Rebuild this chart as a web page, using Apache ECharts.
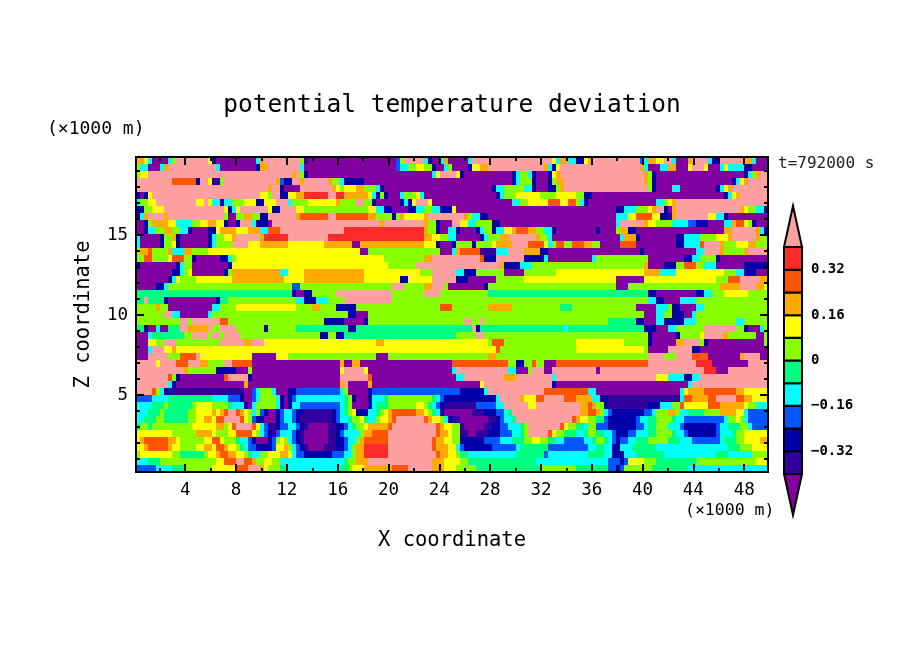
<!DOCTYPE html>
<html><head><meta charset="utf-8"><style>html,body{margin:0;padding:0;background:#fff}#c{width:904px;height:654px}</style>
<script src="https://cdn.jsdelivr.net/npm/echarts@6/dist/echarts.min.js"></script></head><body><div id="c"></div>
<script>
const titleText = "potential temperature deviation";
const xTickMajor = [4,8,12,16,20,24,28,32,36,40,44,48];
const xTickMinor = [2,6,10,14,18,22,26,30,34,38,42,46];
const zTickMajor = [5,10,15];
const zTickMinor = [1,2,3,4,6,7,8,9,11,12,13,14,16,17,18,19];
const barLabels = [-0.32,-0.16,0,0.16,0.32];
const levelColors = ["#8000a0","#3300a0","#0000a8","#0055ff","#00ffff","#00ff80","#88ff00","#ffff00","#ffaa00","#ff5500","#ff2a2a","#ffa0a0"];
const levelLetters = "abcdefghijkl";
const levelEdges = [-0.4,-0.32,-0.24,-0.16,-0.08,0,0.08,0.16,0.24,0.32,0.4];
// each row: level letter + last column of the run, top row first
const levelRows = [
"i2 h3 e4 a8 e9 g10 l18 h19 c20 a30 e31 i32 l41 g42 b43 a65 d66 g67 l72 e73 c74 a76 e77 i78 a83 e84 l104 h105 e106 i108 e110 c112 h113 i114 l126 d127 e128 i130 h132 l134 e135 a138 i139 l143 e144 c146 l152 i154 e155 a158",
"g1 e3 a6 e7 i8 l20 e21 a30 c31 i33 l41 e42 a65 d66 e68 g70 h72 g74 c75 a77 e78 g79 a83 c84 h86 i88 l102 i103 e104 c105 h106 l126 i127 e128 a131 e133 i135 a138 h139 l142 h143 a146 e147 h148 e152 c154 a158",
"g1 h3 l39 i40 l41 g42 c43 a74 e75 h76 l80 h81 c82 a94 c95 e96 g98 e99 c100 a103 c104 h105 i106 l127 i128 g129 c130 a152 c153 e154 g155 i156 l158",
"l9 j15 c16 l18 h19 b21 g22 l35 i36 d37 c38 c39 l41 i42 l48 i49 g51 e52 c53 c57 a81 a94 c95 e96 g99 c100 a103 c104 g105 i107 l127 i128 g129 c130 a149 c150 e151 h152 i153 l158",
"l33 i34 l36 c37 a41 l49 i50 h51 g52 h55 i57 g60 e61 c62 a89 c90 e92 g97 e99 c100 a103 c105 g106 i107 l128 g129 c130 a134 e136 a145 c146 e147 h148 i149 l158",
"c1 a2 c3 h4 l31 h33 g34 l36 c38 h40 i42 k48 l50 k52 i58 h59 e60 c61 g62 c63 a66 e67 g70 h71 e72 a90 c91 e92 g95 h101 g105 h110 g112 c114 a147 c148 e149 h150 i151 l158",
"e1 g3 h5 l15 h17 l18 h19 e21 c22 e24 g27 h30 c32 h35 l38 e39 g43 h50 i51 g55 l57 g59 c60 a66 c67 e68 c69 h70 l73 h74 a94 e96 g98 h103 j106 h108 j110 g111 e112 c113 a130 e132 g133 h134 i135 l158",
"c2 g4 h7 l22 h23 c24 e25 h26 l33 h34 c36 l40 h42 g58 h60 e62 c64 a68 c70 e72 g74 e76 c79 h80 a120 c122 e125 g128 h129 i130 l132 c133 a134 i135 l151 i152 h153 g155 e157 c158",
"c1 e2 i3 l7 i8 l22 g23 a25 g27 i29 g31 c33 l40 i41 j48 l50 j58 i60 g64 c65 g66 i67 h72 i73 l82 i83 g84 e86 c88 a120 e123 h125 j129 h131 c133 b134 i135 l143 h145 e147 c148 a158",
"a2 c3 g4 i8 h10 e14 g16 h18 i20 h22 c23 a25 c26 l29 e30 c33 a34 l61 i62 l72 i73 g75 c76 a79 l81 h83 e85 g89 c91 a120 e121 l127 i128 h130 g134 e138 d140 c143 a147 e149 i150 j152 h153 g154 c155 a158",
"a2 c3 e5 g7 i9 g11 e13 c14 a18 c20 h21 i25 h28 i31 e33 j36 l52 k72 i73 g75 c76 a78 e80 c81 a85 c86 e87 g89 c90 e92 h94 i95 j98 i100 g102 e104 c105 a115 c116 a120 g121 i123 c125 a147 i149 l155 i156 e157 c158",
"e1 a6 c7 g9 i10 c11 a18 c19 e20 g22 h24 i25 l31 i32 k38 l48 k72 i74 h76 g78 e80 a86 c87 e88 g91 i93 l100 i101 g103 e104 a121 e122 i125 c126 a135 c137 e141 g145 h148 i149 l155 i156 g158",
"e1 a6 c7 g9 h10 c11 a18 c19 e20 g24 l28 h31 i38 h47 i54 a56 i72 h75 c76 a79 c80 g84 c85 g89 h90 i94 l98 j102 h103 e104 g105 j107 g109 j112 i114 g116 a121 j125 a135 c137 e141 j142 l146 i147 g150 h153 i155 g158",
"g1 i3 j4 g8 i9 e12 i14 g18 h24 h56 a58 g76 a79 e80 i81 j86 b90 e93 l97 i101 c103 a126 c127 a135 a140 e142 l146 i147 g149 g152 i153 l158",
"g2 j4 g8 h9 j12 g14 c15 a21 c23 e24 g25 h62 g72 i74 l86 j87 c90 l97 c102 e103 a114 e115 g128 a137 c139 e141 g145 c146 a158",
"c1 a10 c11 e12 g14 a23 c24 h63 g70 l91 i92 c96 e99 g127 i128 a132 c135 g137 j140 g142 e145 a152 c158",
"a9 c11 e12 g13 h14 a22 c23 g24 i36 e38 h42 i57 h71 g74 l80 e82 c85 g92 a97 g105 h127 i131 e135 h147 g150 e152 c155 a158",
"a8 c9 e10 h11 g15 h24 i37 h42 i57 h66 c68 h74 l80 c83 a90 g97 h120 a127 h145 g148 j151 l156 i158",
"a5 c7 e8 g39 d41 g64 l67 g72 i74 l77 g78 a82 a87 c88 g120 a123 g146 i151 l155 i157 h158",
"f39 c40 a42 c44 g50 l64 g72 l76 g88 f128 c130 a140 c142 e144 g147 h153 g158",
"f2 l3 f7 c8 a20 c21 f23 g40 e42 c45 e48 g52 l64 g128 e130 c132 a136 e140 g158",
"g5 i6 g8 a19 e21 g25 h40 g44 i46 g50 c55 g76 j79 g88 i94 g106 f109 g125 a130 e133 g134 c136 a140 e142 g158",
"g7 l9 e11 a18 e19 g53 c55 a58 g127 a130 e132 g134 c137 a139 e140 g158",
"g11 l13 g14 l21 j23 g47 c52 a57 c58 g82 l84 g86 l87 g118 f125 c127 a130 e132 c137 e140 g150 e152 g158",
"f2 c3 a5 e6 a8 f11 l13 i18 l19 g21 l25 g32 c33 g40 f53 c55 f84 l85 c86 f107 e108 f127 c130 a133 e135 g142 l150 g152 c153 a156 e157 g158",
"a3 e4 f12 g14 l18 g19 l21 g22 l26 g46 c48 g50 c52 f80 g85 l87 g128 c129 a135 c136 g141 h142 l147 i148 g155 a157 g158",
"a3 h5 g7 l10 g21 l27 i29 l32 h60 i62 h88 g89 j92 g110 h122 g128 c129 a135 i137 l141 g142 c143 a157 g158",
"a3 e4 l7 h9 i10 h90 j91 g110 h127 g128 a133 l139 c141 a158",
"a3 l8 g11 j15 l16 h29 a35 h38 g60 a63 g88 i90 g128 l132 g135 l139 j143 a151 i152 l156 a158",
"l5 h6 l10 j13 l16 i18 g22 l24 j29 a51 i52 a54 i56 a79 j93 g95 c97 g99 j100 g102 a105 j128 l140 k144 a153 l158",
"l12 i13 g20 c25 a28 g29 a51 h52 l57 h58 a79 e80 l93 e95 a98 g99 l102 a104 l115 a116 l142 k145 a148 l158",
"l8 j9 g10 c11 a22 j23 l28 c29 a51 l58 j59 a80 e82 l92 i95 l104 e105 l130 h133 e137 c139 e141 l158",
"l8 e9 c10 a27 i28 a51 i52 l53 a58 i59 a86 h87 l104 c105 a138 e139 l158",
"l4 j5 g6 e7 c8 b27 a29 d30 e31 g34 e35 a38 c40 d51 e52 g53 a58 c59 d81 c87 e88 l102 j113 e115 a136 e137 h138 i142 j150 i152 h158",
"d4 e8 f19 e23 d26 c27 a29 d30 e31 g35 e36 c37 a38 c39 d40 e52 f53 g54 c55 a58 c59 e62 f63 g74 f75 e76 d77 c90 e91 l96 i97 h100 j102 l107 j110 i114 e116 c118 b136 e137 j139 i143 j145 l150 j152 i154 h158",
"e4 f7 g8 f14 g15 h19 g23 f24 e27 c28 a29 e30 g35 e36 c37 a38 c39 e41 d51 e52 f53 g54 a58 c59 e60 f63 g70 h72 g73 f74 e75 d76 c77 b85 d90 e92 l98 h100 l111 i113 j114 i115 g117 c118 b128 c131 e134 g136 j137 h143 j146 i152 h153 g155 e158",
"e3 f6 g7 f13 g15 h19 i20 h21 i22 j23 l25 j26 i27 h28 g29 e30 g31 d32 c33 a35 c36 d37 e39 d40 c42 b49 c50 d51 e52 f53 g54 h55 c58 e60 f61 g62 h63 i64 j70 i72 h73 g74 f75 e76 c77 a84 b87 c90 d92 e93 f94 l111 i113 j115 i116 g117 e118 d119 c127 d129 e130 g133 i135 g136 e138 f142 g146 i150 h152 e153 d158",
"e2 f5 g7 f13 g15 h17 i19 h20 j22 l26 j27 h28 g29 d30 c32 a35 c36 d37 e39 d40 c41 b49 c50 d51 e53 f54 g56 h57 f58 e60 g61 h63 i64 j65 l72 j73 i74 h76 g77 e78 c79 b81 a88 b90 c91 d92 e94 f95 l109 j110 i111 h113 g115 f117 d118 c125 d126 e128 f130 g134 f135 e137 d147 e148 g150 h151 g152 e153 d158",
"f1 g3 f4 g14 h20 i22 g23 h24 j25 l29 j30 h31 e32 d33 b35 c36 d38 e40 d41 c42 b43 a48 b50 c52 d53 e54 f55 g57 h58 i63 j64 l75 j76 i77 h79 g81 b82 a87 b89 c91 d93 e96 f97 g98 l106 j107 h108 g110 f112 e113 g115 d118 c125 d127 e128 f130 g133 e136 d137 c145 d146 e148 f151 g153 e154 d158",
"h9 g15 i19 h20 g23 h25 j29 h30 g31 e32 d33 c34 b35 d36 e39 d40 c41 b42 a48 b50 c51 d52 e56 g57 i59 j63 l75 j76 i78 h79 g81 b83 a85 b88 c91 d94 e96 f97 g98 l103 j104 h105 g107 f110 e112 f113 g115 f117 e119 d120 c123 d125 e128 f130 g134 f135 e137 d138 c145 d146 e149 f150 g152 h158",
"h1 i2 j8 i10 h11 g17 h19 j21 h22 g25 f26 e28 d29 c30 a33 c34 d35 g36 h37 g38 e39 d40 c41 b42 a48 b50 c52 d53 e55 g56 i57 j63 l74 j75 i77 h79 g81 c87 d91 e94 f97 g99 h101 g103 f105 e107 d112 e114 f115 g117 f118 e119 d120 c121 d123 e125 f128 g133 f136 e139 d146 e147 f150 g152 h156 i158",
"h2 i3 j8 i9 h11 g15 h17 i19 h20 j22 i23 h25 g26 f27 e28 d30 c34 d35 h37 i38 g39 e40 d41 c42 b43 a47 b50 c52 d53 e54 g55 i57 k63 l74 j75 i78 h80 e81 d82 c89 d95 e96 f103 d113 e115 f117 e119 c121 e124 f130 e148 f151 g154 h158",
"g1 h9 g11 f17 g18 h20 i21 j23 i25 h27 g28 f29 e31 g33 h36 i38 h39 e40 d42 c49 d52 e54 g55 i57 k63 l75 j76 i78 h80 g81 f83 e95 f102 d103 e113 f117 e119 c122 e125 f132 e145 f148 e154 g158",
"e3 f6 g20 h22 j25 l27 j29 i30 g32 h34 g36 e52 f53 g55 i58 l74 i77 h81 g83 f100 e118 d121 c122 d123 h127 g130 f140 g155 h158",
"d5 e9 f12 g19 h25 j28 l31 i32 h33 g36 f38 e51 f53 g54 h57 i64 j68 l74 i77 h80 g85 f101 g110 f118 d120 c121 d122 g129 f138 e158"
];

const xMin = 0.125, xMax = 49.875, zMin = 0.1875, zMax = 19.875;
const colCount = 158, rowCount = levelRows.length;
const runs = [];
levelRows.forEach((row, r) => {
  const zTop = zMax - (zMax - zMin) * r / rowCount, zBot = zMax - (zMax - zMin) * (r + 1) / rowCount;
  let prev = 0;
  for (const m of row.matchAll(/([a-l])(\d+)/g)) {
    const end = Math.min(+m[2], colCount);
    if (end <= prev) continue;
    const idx = levelLetters.indexOf(m[1]);
    runs.push([xMin + (xMax - xMin) * prev / colCount, xMin + (xMax - xMin) * end / colCount, zBot, zTop, idx]);
    prev = end;
  }
});

const font = "DejaVu Sans Mono";
const barOver = 0.145;
const barData = levelEdges.slice(0, -1).map((v, i) => [v, levelEdges[i + 1], i + 1]);
barData.unshift([levelEdges[0] - barOver, levelEdges[0], 0]);
barData.push([levelEdges[10], levelEdges[10] + barOver, 11]);

const tickStyle = {color: "#000", width: 2};
function xAx(pos, vals, len, labels, extra) {
  return Object.assign({type: "value", gridIndex: 0, position: pos, min: xMin, max: xMax, z: 6,
    axisLine: {show: true, onZero: false, lineStyle: {color: "#000", width: 2}},
    axisTick: {show: true, inside: true, length: len, customValues: vals, lineStyle: tickStyle},
    axisLabel: labels ? {show: true, customValues: vals, margin: 9, fontFamily: font, fontSize: 17.5, color: "#000", formatter: v => String(v)} : {show: false},
    splitLine: {show: false}}, extra || {});
}
function zAx(pos, vals, len, labels, extra) {
  return Object.assign({type: "value", gridIndex: 0, position: pos, min: zMin, max: zMax, z: 6,
    axisLine: {show: true, onZero: false, lineStyle: {color: "#000", width: 2}},
    axisTick: {show: true, inside: true, length: len, customValues: vals, lineStyle: tickStyle},
    axisLabel: labels ? {show: true, customValues: vals, margin: 8, fontFamily: font, fontSize: 17.5, color: "#000", formatter: v => String(v)} : {show: false},
    splitLine: {show: false}}, extra || {});
}
const chart = echarts.init(document.getElementById("c"), null, {renderer: "canvas"});
chart.setOption({
  animation: false,
  backgroundColor: "#fff",
  title: {text: titleText, left: 447, top: 88, textAlign: "center", textStyle: {fontFamily: font, fontSize: 24.5, fontWeight: "normal", color: "#000"}},
  grid: [
    {left: 136, top: 157, width: 632, height: 315},
    {left: 784, top: 206, width: 18, height: 309}
  ],
  xAxis: [
    xAx("bottom", xTickMajor, 8, true, {name: "X coordinate", nameLocation: "middle", nameGap: 58, nameTextStyle: {fontFamily: font, fontSize: 20.5, color: "#000"}}),
    xAx("bottom", xTickMinor, 4, false),
    xAx("top", xTickMajor, 8, false),
    xAx("top", xTickMinor, 4, false),
    {type: "value", gridIndex: 1, min: 0, max: 1, show: false}
  ],
  yAxis: [
    zAx("left", zTickMajor, 8, true, {name: "Z coordinate", nameLocation: "middle", nameGap: 42, nameTextStyle: {fontFamily: font, fontSize: 20.5, color: "#000"}}),
    zAx("left", zTickMinor, 4, false),
    zAx("right", zTickMajor, 8, false),
    zAx("right", zTickMinor, 4, false),
    {type: "value", gridIndex: 1, position: "right", min: levelEdges[0] - barOver, max: levelEdges[10] + barOver,
      axisLine: {show: false}, axisTick: {show: false}, splitLine: {show: false},
      axisLabel: {show: true, customValues: barLabels, margin: 9, fontFamily: font, fontSize: 14, fontWeight: "bold", color: "#000",
        formatter: v => (v < 0 ? "\u2212" + Math.abs(v) : String(v))}}
  ],
  series: [
    {type: "custom", xAxisIndex: 0, yAxisIndex: 0, silent: true, progressive: 0, clip: true,
      encode: {x: [0, 1], y: [2, 3]}, data: runs, z: 2,
      renderItem(params, api) {
        const a = api.coord([api.value(0), api.value(3)]), b = api.coord([api.value(1), api.value(2)]);
        const x0 = Math.round(a[0]), y0 = Math.round(a[1]), x1 = Math.round(b[0]), y1 = Math.round(b[1]);
        return {type: "rect", shape: {x: x0, y: y0, width: x1 - x0, height: y1 - y0}, style: {fill: levelColors[api.value(4)]}};
      }},
    {type: "custom", xAxisIndex: 4, yAxisIndex: 4, silent: true, progressive: 0, clip: false,
      encode: {y: [0, 1]}, data: barData, z: 3,
      renderItem(params, api) {
        const lo = api.value(0), hi = api.value(1), i = api.value(2);
        const style = {fill: levelColors[i], stroke: "#000", lineWidth: 2};
        if (i === 0 || i === 11) {
          const tipV = i === 0 ? lo : hi, baseV = i === 0 ? hi : lo;
          return {type: "polygon", shape: {points: [api.coord([0, baseV]), api.coord([1, baseV]), api.coord([0.5, tipV])]}, style};
        }
        const a = api.coord([0, hi]), b = api.coord([1, lo]);
        return {type: "rect", shape: {x: a[0], y: a[1], width: b[0] - a[0], height: b[1] - a[1]}, style};
      }}
  ],
  graphic: [
    {type: "text", left: 47, top: 120, style: {text: "(\u00d71000 m)", fontFamily: font, fontSize: 18, fill: "#000"}},
    {type: "text", left: 685, top: 502, style: {text: "(\u00d71000 m)", fontFamily: font, fontSize: 16.5, fill: "#000"}},
    {type: "text", left: 778, top: 156, style: {text: "t=792000 s", fontFamily: font, fontSize: 16, fill: "#222"}}
  ]
});
</script></body></html>
